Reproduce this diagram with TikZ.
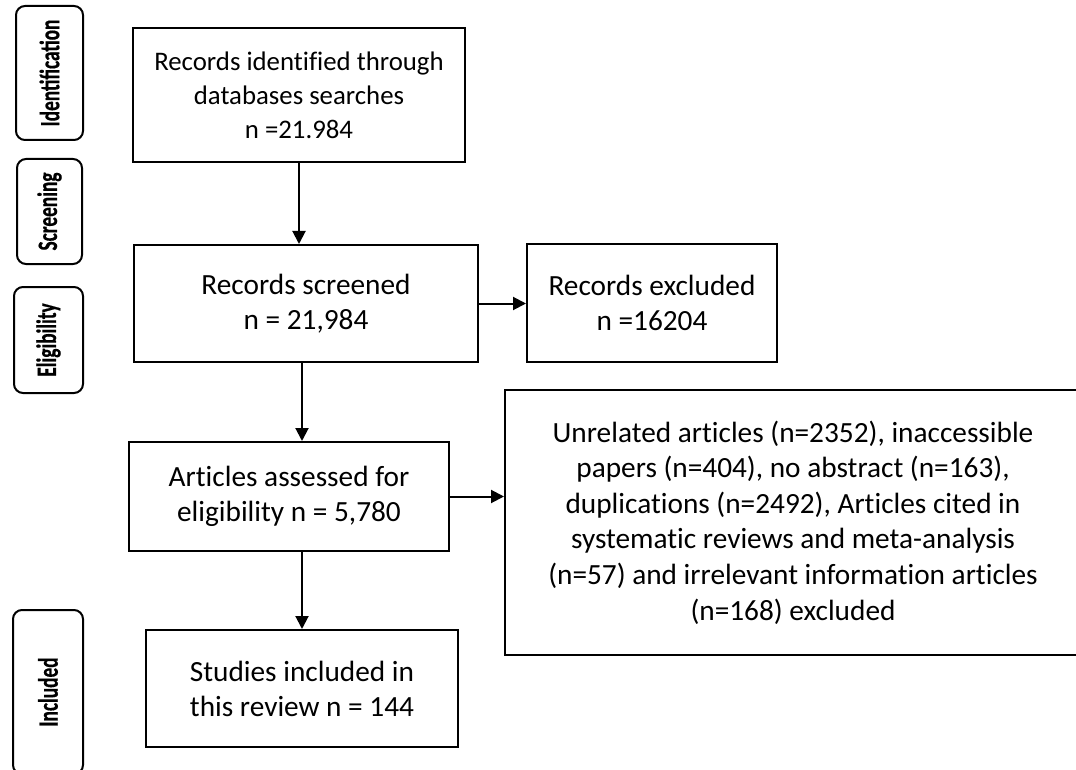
\documentclass[tikz,border=0pt]{standalone}
\usepackage{fontspec}
\setmainfont{Carlito}[Ligatures=NoCommon]
\newfontfamily\sidefont{Carlito}[UprightFeatures={FakeBold=0.6}, BoldFeatures={FakeBold=0.6}]
\usetikzlibrary{arrows.meta}
\newcommand{\sidetxt}[1]{\scalebox{0.69}[1]{#1}}
\begin{document}
\begin{tikzpicture}[x=1pt,y=-1pt,
  box/.style={draw=black, line width=2pt, align=center, inner sep=0pt,
    font=\fontsize{29.3}{35}\selectfont},
  side/.style={draw=black, line width=2pt, rounded corners=9pt, inner sep=0pt,
    rotate=90, font=\sidefont\fontsize{28}{30}\selectfont\bfseries},
  arr/.style={line width=2pt, -{Triangle[length=13pt,width=13pt]}}]
\useasboundingbox (0,0) rectangle (1076,770);
\clip (0,0) rectangle (1076,770);
\fill[white] (0,0) rectangle (1076,770);

% phase labels
\node[side, minimum width=134pt, minimum height=67pt] (ident) at (49.5,73) {\sidetxt{Identification}};
\node[side, minimum width=105pt, minimum height=65pt] (screen) at (49.5,211.5) {\sidetxt{Screening}};
\node[side, minimum width=106pt, minimum height=69pt] (elig) at (48.5,340) {\sidetxt{Eligibility}};
\node[side, minimum width=164pt, minimum height=70pt] (incl) at (48,692) {\sidetxt{Included}};

% boxes
\node[box, minimum width=332pt, minimum height=134pt, font=\fontsize{26.8}{34}\selectfont] (b1) at (299,95)
  {Records identified through\\databases searches\\n =21.984};
\node[box, minimum width=344pt, minimum height=117pt] (b2) at (306,303.5)
  {Records screened\\n = 21,984};
\node[box, minimum width=250pt, minimum height=118pt] (b3) at (652,303)
  {Records excluded\\n =16204};
\node[box, minimum width=320pt, minimum height=109pt] (b4) at (289,496.5)
  {Articles assessed for\\eligibility n = 5,780};
\node[box, minimum width=312pt, minimum height=117pt] (b5) at (302,688.5)
  {Studies included in\\this review n = 144};
\node[box, minimum width=576pt, minimum height=265pt, font=\fontsize{29.3}{35.6}\selectfont] (b6) at (793,522.5)
  {Unrelated articles (n=2352), inaccessible\\
   papers (n=404), no abstract (n=163),\\
   duplications (n=2492), Articles cited in\\
   systematic reviews and meta-analysis\\
   (n=57) and irrelevant information articles\\
   (n=168) excluded};

% connectors
\draw[arr] (b1.south) -- (b1.south |- b2.north);
\draw[arr] (b2.east) -- (b2.east -| b3.west);
\draw[arr] (b5 |- b2.south) -- (b5 |- b4.north);
\draw[arr] (b4.east) -- (b4.east -| b6.west);
\draw[arr] (b5 |- b4.south) -- (b5.north);
\end{tikzpicture}
\end{document}
